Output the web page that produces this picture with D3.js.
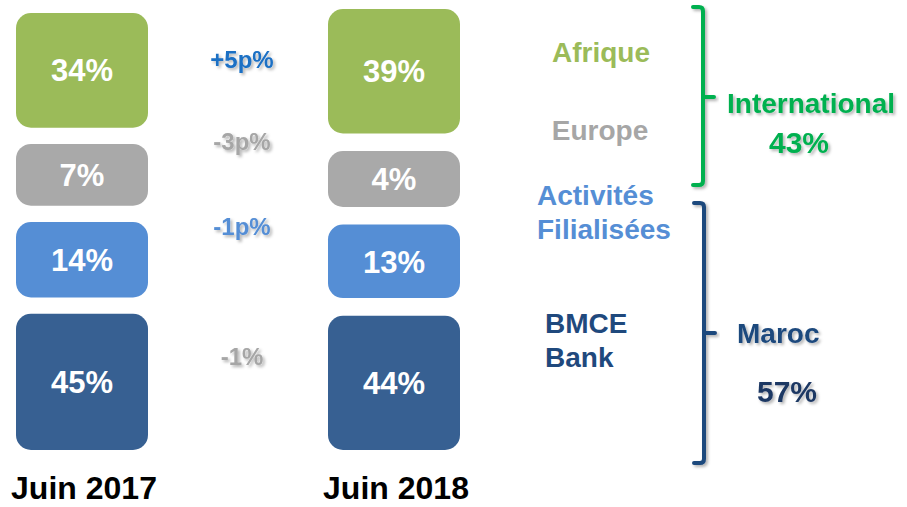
<!DOCTYPE html>
<html>
<head>
<meta charset="utf-8">
<script src="https://cdn.jsdelivr.net/npm/d3@7"></script>
<style>
  html, body { margin: 0; padding: 0; background: #fff; }
  svg text { font-family: "Liberation Sans", Arial, sans-serif; font-weight: bold; }
</style>
</head>
<body>
<div id="chart"></div>
<script>
// données
const categories = ["Afrique", "Europe", "Activités Filialisées", "BMCE Bank"];
const periods = ["Juin 2017", "Juin 2018"];
const values2017 = [34, 7, 14, 45];
const values2018 = [39, 4, 13, 44];
const changes = ["+5p%", "-3p%", "-1p%", "-1%"];
const groups = ["International", "Maroc"];
const groupValues = [43, 57];

const width = 907;
const height = 507;

const boxColors = ["#9bbb59", "#a9a9a9", "#558ed5", "#376092"];
const labelColors = ["#9bbb59", "#a6a6a6", "#558ed5", "#1f497d"];
const changeColors = ["#1a6fc4", "#a6a6a6", "#558ed5", "#a6a6a6"];

const svg = d3.select('#chart')
  .append('svg')
  .attr('width', width)
  .attr('height', height);

// ombre portée légère
const shadow = svg.append('defs').append('filter')
  .attr('id', 'shadow')
  .attr('x', '-20%').attr('y', '-20%')
  .attr('width', '140%').attr('height', '140%');
shadow.append('feDropShadow')
  .attr('dx', 2).attr('dy', 2)
  .attr('stdDeviation', 1.5)
  .attr('flood-color', '#000')
  .attr('flood-opacity', 0.3);

const x = d3.scalePoint().domain(periods).range([82, 394]);
const boxWidth = 132;
const h = d3.scaleLinear().domain([0, 50]).range([48, 146]);

// empilement vertical de chaque colonne, espaces répartis
const columns = [
  { period: periods[0], values: values2017, top: 13, bottom: 450 },
  { period: periods[1], values: values2018, top: 9, bottom: 450 }
];

const boxes = [];
columns.forEach(col => {
  const total = d3.sum(col.values, v => h(v));
  const gap = (col.bottom - col.top - total) / (col.values.length - 1);
  let y = col.top;
  col.values.forEach((v, i) => {
    boxes.push({ period: col.period, value: v, i: i, y: y, height: h(v) });
    y += h(v) + gap;
  });
});

const box = svg.selectAll('g.box')
  .data(boxes)
  .enter()
  .append('g')
  .attr('class', 'box');

box.append('rect')
  .attr('x', d => x(d.period) - boxWidth / 2)
  .attr('y', d => d.y)
  .attr('width', boxWidth)
  .attr('height', d => d.height)
  .attr('rx', 15)
  .attr('fill', d => boxColors[d.i]);

box.append('text')
  .attr('x', d => x(d.period))
  .attr('y', d => d.y + d.height / 2)
  .attr('dy', '0.36em')
  .attr('text-anchor', 'middle')
  .attr('font-size', 31)
  .attr('fill', '#fff')
  .text(d => d.value + '%');

// années
svg.selectAll('text.period')
  .data(periods)
  .enter()
  .append('text')
  .attr('class', 'period')
  .attr('x', d => x(d) + 2)
  .attr('y', 499)
  .attr('text-anchor', 'middle')
  .attr('font-size', 32)
  .attr('fill', '#000')
  .text(d => d);

// variations
const changeY = [68, 150, 235, 365];
svg.selectAll('text.change')
  .data(changes)
  .enter()
  .append('text')
  .attr('class', 'change')
  .attr('x', 242)
  .attr('y', (d, i) => changeY[i])
  .attr('text-anchor', 'middle')
  .attr('font-size', 24)
  .attr('fill', (d, i) => changeColors[i])
  .attr('filter', 'url(#shadow)')
  .text(d => d);

// libellés des activités
const catLayout = [
  { lines: ["Afrique"], x: 601, y: 62, anchor: 'middle' },
  { lines: ["Europe"], x: 600, y: 140, anchor: 'middle' },
  { lines: ["Activités", "Filialisées"], x: 537, y: 205, anchor: 'start' },
  { lines: ["BMCE", "Bank"], x: 545, y: 333, anchor: 'start' }
];

const cat = svg.selectAll('text.cat')
  .data(categories)
  .enter()
  .append('text')
  .attr('class', 'cat')
  .attr('x', (d, i) => catLayout[i].x)
  .attr('y', (d, i) => catLayout[i].y)
  .attr('text-anchor', (d, i) => catLayout[i].anchor)
  .attr('font-size', 28)
  .attr('fill', (d, i) => labelColors[i]);

cat.selectAll('tspan')
  .data((d, i) => catLayout[i].lines.map(l => ({ l: l, x: catLayout[i].x })))
  .enter()
  .append('tspan')
  .attr('x', d => d.x)
  .attr('dy', (d, j) => j === 0 ? 0 : 34)
  .text(d => d.l);

// accolades et totaux
const groupLayout = [
  { color: '#00b050', valueColor: '#00b050', bx: 703, top: 7, bottom: 185, mid: 97,
    nameX: 727, nameY: 113, valX: 769, valY: 153 },
  { color: '#1f497d', valueColor: '#1f3864', bx: 704, top: 203, bottom: 463, mid: 333,
    nameX: 737, nameY: 343, valX: 757, valY: 402 }
];

groups.forEach((g, i) => {
  const L = groupLayout[i];
  const p = d3.path();
  p.moveTo(L.bx - 10, L.top);
  p.lineTo(L.bx - 4, L.top);
  p.quadraticCurveTo(L.bx, L.top, L.bx, L.top + 4);
  p.lineTo(L.bx, L.bottom - 4);
  p.quadraticCurveTo(L.bx, L.bottom, L.bx - 4, L.bottom);
  p.lineTo(L.bx - 10, L.bottom);
  p.moveTo(L.bx, L.mid);
  p.lineTo(L.bx + 11, L.mid);

  svg.append('path')
    .attr('d', p.toString())
    .attr('fill', 'none')
    .attr('stroke', L.color)
    .attr('stroke-width', 4)
    .attr('stroke-linecap', 'round')
    .attr('stroke-linejoin', 'round')
    .attr('filter', 'url(#shadow)');

  svg.append('text')
    .attr('x', L.nameX)
    .attr('y', L.nameY)
    .attr('font-size', 28)
    .attr('fill', L.color)
    .attr('filter', 'url(#shadow)')
    .text(g);

  svg.append('text')
    .attr('x', L.valX)
    .attr('y', L.valY)
    .attr('font-size', 30)
    .attr('fill', L.valueColor)
    .attr('filter', 'url(#shadow)')
    .text(groupValues[i] + '%');
});
</script>
</body>
</html>
